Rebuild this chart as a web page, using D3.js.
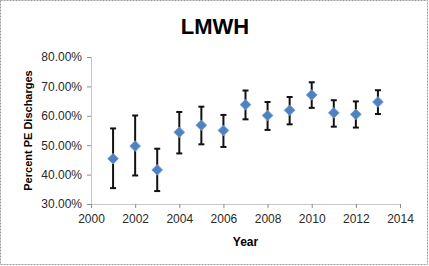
<!DOCTYPE html>
<html>
<head>
<meta charset="utf-8">
<script src="https://cdn.jsdelivr.net/npm/d3@7"></script>
<style>
	html, body { margin: 0; padding: 0; background: #fff; }
	svg { display: block; font-family: "Liberation Sans", Arial, sans-serif; }
</style>
</head>
<body>
<svg id="chart"></svg>
<script>
/*
 * LMWH scatter chart with error bars
 */

// data (percent)
const years = [2001, 2002, 2003, 2004, 2005, 2006, 2007, 2008, 2009, 2010, 2011, 2012, 2013];
const percentValues = [45.4, 49.7, 41.6, 54.4, 56.8, 55.0, 63.8, 60.1, 61.9, 67.1, 61.0, 60.5, 64.7];
const upperBounds = [55.7, 60.1, 48.8, 61.3, 63.1, 60.3, 68.6, 64.7, 66.4, 71.4, 65.3, 64.9, 68.7];
const lowerBounds = [35.4, 39.7, 34.4, 47.2, 50.3, 49.4, 58.8, 55.2, 57.1, 62.7, 56.3, 56.0, 60.6];
const xTicks = [2000, 2002, 2004, 2006, 2008, 2010, 2012, 2014];
const yTicks = [30, 40, 50, 60, 70, 80];

class ErrorBarChart {

	constructor(chartSelector, options) {
		let defaults = {
			width: 429,
			height: 266,
			margin: { top: 57, left: 91, bottom: 62, right: 29 },
			markerColor: '#4f81bd',
			axisColor: '#8c8c8c'
		};
		this.settings = Object.assign({}, defaults, options);
		this.chart = d3.select(chartSelector);
		this.dataset = years.map((y, i) => ({
			year: y,
			value: percentValues[i],
			hi: upperBounds[i],
			lo: lowerBounds[i]
		}));
		this.createChart();
	}

	_initChart() {
		let s = this.settings;
		this.chart.attr('width', s.width).attr('height', s.height);
		this.innerWidth = s.width - s.margin.left - s.margin.right;
		this.innerHeight = s.height - s.margin.top - s.margin.bottom;

		// dashed outer border
		this.chart.append('rect')
			.attr('x', 0.5).attr('y', 0.5)
			.attr('width', s.width - 2).attr('height', s.height - 2)
			.attr('fill', '#fff')
			.attr('stroke', '#9a9a9a')
			.attr('stroke-dasharray', '2,1');

		this.plot = this.chart.append('g')
			.attr('transform', 'translate(' + s.margin.left + ',' + s.margin.top + ')');
	}

	_createScales() {
		this.xScale = d3.scaleLinear().domain([2000, 2014]).range([0, this.innerWidth]);
		this.yScale = d3.scaleLinear().domain([30, 80]).range([this.innerHeight, 0]);
	}

	_createAxes() {
		let s = this.settings;

		let xAxis = d3.axisBottom(this.xScale)
			.tickValues(xTicks)
			.tickFormat(d3.format('d'))
			.tickSizeInner(4).tickSizeOuter(0).tickPadding(6);

		let yAxis = d3.axisLeft(this.yScale)
			.tickValues(yTicks)
			.tickFormat(d => d.toFixed(2) + '%')
			.tickSizeInner(4).tickSizeOuter(0).tickPadding(5);

		let gx = this.plot.append('g')
			.attr('transform', 'translate(0,' + this.innerHeight + ')')
			.call(xAxis);

		let gy = this.plot.append('g').call(yAxis);

		[gx, gy].forEach((g) => {
			g.select('.domain').attr('stroke', s.axisColor).attr('stroke-dasharray', '1,1');
			g.selectAll('.tick line').attr('stroke', s.axisColor);
			g.selectAll('.tick text')
				.attr('fill', '#2a2a2a')
				.style('font-size', '12px')
				.style('font-family', '"Liberation Sans", Arial, sans-serif');
		});
	}

	_addErrorBars() {
		let x = this.xScale, y = this.yScale;
		let bars = this.plot.append('g')
			.selectAll('.err')
			.data(this.dataset)
			.enter()
			.append('g')
			.attr('class', 'err')
			.attr('stroke', '#111')
			.attr('stroke-width', 2);

		bars.append('line')
			.attr('x1', d => x(d.year)).attr('x2', d => x(d.year))
			.attr('y1', d => y(d.hi)).attr('y2', d => y(d.lo));
		bars.append('line')
			.attr('x1', d => x(d.year) - 3).attr('x2', d => x(d.year) + 3)
			.attr('y1', d => y(d.hi)).attr('y2', d => y(d.hi));
		bars.append('line')
			.attr('x1', d => x(d.year) - 3).attr('x2', d => x(d.year) + 3)
			.attr('y1', d => y(d.lo)).attr('y2', d => y(d.lo));
	}

	_addMarkers() {
		let x = this.xScale, y = this.yScale;
		let diamond = d3.symbol().type(d3.symbolDiamond2).size(72);

		this.plot.append('g')
			.selectAll('path')
			.data(this.dataset)
			.enter()
			.append('path')
			.attr('d', diamond)
			.attr('transform', d => 'translate(' + x(d.year) + ',' + y(d.value) + ')')
			.attr('fill', this.settings.markerColor)
			.attr('stroke', '#6f9bd8')
			.attr('stroke-width', 1);
	}

	_addLabels() {
		let s = this.settings;

		this.chart.append('text')
			.attr('x', 215).attr('y', 34)
			.attr('text-anchor', 'middle')
			.style('font-size', '22px').style('font-weight', 'bold')
			.text('LMWH');

		this.chart.append('text')
			.attr('x', s.margin.left + this.innerWidth / 2).attr('y', 246)
			.attr('text-anchor', 'middle')
			.style('font-size', '12px').style('font-weight', 'bold')
			.text('Year');

		this.chart.append('text')
			.attr('transform', 'translate(32,' + (s.margin.top + this.innerHeight / 2) + ') rotate(-90)')
			.attr('text-anchor', 'middle')
			.style('font-size', '11px').style('font-weight', 'bold')
			.text('Percent PE Discharges');
	}

	createChart() {
		this._initChart();
		this._createScales();
		this._createAxes();
		this._addErrorBars();
		this._addMarkers();
		this._addLabels();
	}
}

new ErrorBarChart('#chart');
</script>
</body>
</html>
